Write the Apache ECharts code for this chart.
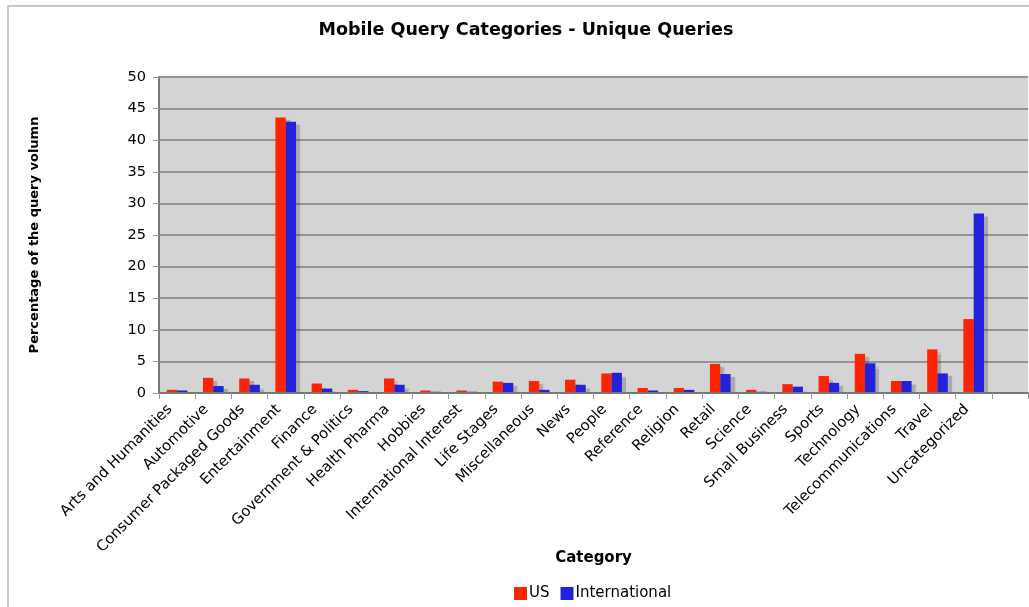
<!DOCTYPE html>
<html>
<head>
<meta charset="utf-8">
<script src="https://cdn.jsdelivr.net/npm/echarts@6/dist/echarts.min.js"></script>
<style>
  html, body { margin: 0; padding: 0; background: #fff; }
  #chart { width: 1029px; height: 607px; }
</style>
</head>
<body>
<div id="chart"></div>
<script>
// Query categories (trailing empty slot keeps room at the right of the plot)
const categories = [
  'Arts and Humanities', 'Automotive', 'Consumer Packaged Goods', 'Entertainment',
  'Finance', 'Government & Politics', 'Health Pharma', 'Hobbies',
  'International Interest', 'Life Stages', 'Miscellaneous', 'News', 'People',
  'Reference', 'Religion', 'Retail', 'Science', 'Small Business', 'Sports',
  'Technology', 'Telecommunications', 'Travel', 'Uncategorized', ''
];

// Share of unique query volume, in percent
const usValues = [
  0.5, 2.4, 2.3, 43.6, 1.5, 0.5, 2.3, 0.4, 0.4, 1.8, 1.9, 2.1,
  3.1, 0.8, 0.8, 4.6, 0.5, 1.4, 2.7, 6.2, 1.9, 6.9, 11.7
];
const internationalValues = [
  0.4, 1.1, 1.3, 42.9, 0.7, 0.3, 1.3, 0.2, 0.2, 1.6, 0.5, 1.3,
  3.2, 0.4, 0.5, 3.0, 0.2, 1.0, 1.6, 4.7, 1.9, 3.1, 28.4
];

const yTicks = { min: 0, max: 50, interval: 5 };

const font = 'DejaVu Sans, Verdana, sans-serif';
const barShadow = {
  shadowColor: 'rgba(0,0,0,0.2)',
  shadowBlur: 1,
  shadowOffsetX: 4,
  shadowOffsetY: 3
};

const gridBox = { left: 159, top: 77, width: 869, height: 316 };

const chart = echarts.init(document.getElementById('chart'), null, { renderer: 'canvas' });

chart.setOption({
  animation: false,
  backgroundColor: '#fff',
  textStyle: { fontFamily: font },
  graphic: [
    {
      // outer frame of the chart
      type: 'rect',
      shape: { x: 8, y: 6, width: 1200, height: 800 },
      style: { fill: 'none', stroke: '#c8c8c8', lineWidth: 2 },
      silent: true,
      z: -10
    },
    {
      // keeps bar shadows from spilling under the category axis
      type: 'rect',
      shape: { x: gridBox.left, y: gridBox.top + gridBox.height + 0.5, width: gridBox.width + 10, height: 6 },
      style: { fill: '#fff' },
      silent: true,
      z: 2.5
    }
  ],
  title: {
    text: 'Mobile Query Categories - Unique Queries',
    left: 526,
    textAlign: 'center',
    top: 21,
    padding: 0,
    textStyle: { fontFamily: font, fontSize: 17.5, fontWeight: 'bold', color: '#000' }
  },
  legend: {
    data: ['US', 'International'],
    left: 514,
    top: 586,
    padding: 0,
    itemWidth: 13,
    itemHeight: 13,
    itemGap: 11,
    icon: 'rect',
    textStyle: { fontFamily: font, fontSize: 15, color: '#000', padding: [0, 0, 0, -3] }
  },
  grid: Object.assign({
    show: true,
    backgroundColor: '#d4d4d4',
    borderWidth: 0
  }, gridBox),
  xAxis: {
    type: 'category',
    data: categories,
    z: 3,
    name: 'Category',
    nameLocation: 'middle',
    nameGap: 158,
    nameMoveOverlap: false,
    nameTextStyle: { fontFamily: font, fontSize: 15, fontWeight: 'bold', color: '#000' },
    axisLine: { lineStyle: { color: '#777', width: 2 } },
    axisTick: { show: true, length: 6, lineStyle: { color: '#999', width: 1 } },
    axisLabel: {
      rotate: 45,
      interval: 0,
      margin: 7,
      padding: [0, 10, 0, 0],
      fontFamily: font,
      fontSize: 14.8,
      color: '#000'
    },
    splitLine: { show: false }
  },
  yAxis: {
    type: 'value',
    min: yTicks.min,
    max: yTicks.max,
    interval: yTicks.interval,
    name: 'Percentage of the query volumn',
    nameLocation: 'middle',
    nameGap: 118,
    nameRotate: 90,
    nameMoveOverlap: false,
    nameTextStyle: { fontFamily: font, fontSize: 13, fontWeight: 'bold', color: '#000' },
    axisLine: { show: true, lineStyle: { color: '#777', width: 2 } },
    axisTick: { show: true, length: 6, lineStyle: { color: '#999', width: 1 } },
    axisLabel: { margin: 13, fontFamily: font, fontSize: 14.5, color: '#000' },
    splitLine: { show: true, lineStyle: { color: '#939393', width: 2 } }
  },
  series: [
    {
      name: 'US',
      type: 'bar',
      data: usValues,
      barWidth: '28.5%',
      barGap: '0%',
      itemStyle: Object.assign({ color: '#ff2400' }, barShadow)
    },
    {
      name: 'International',
      type: 'bar',
      data: internationalValues,
      barWidth: '28.5%',
      itemStyle: Object.assign({ color: '#2222dd' }, barShadow)
    }
  ]
});
</script>
</body>
</html>
